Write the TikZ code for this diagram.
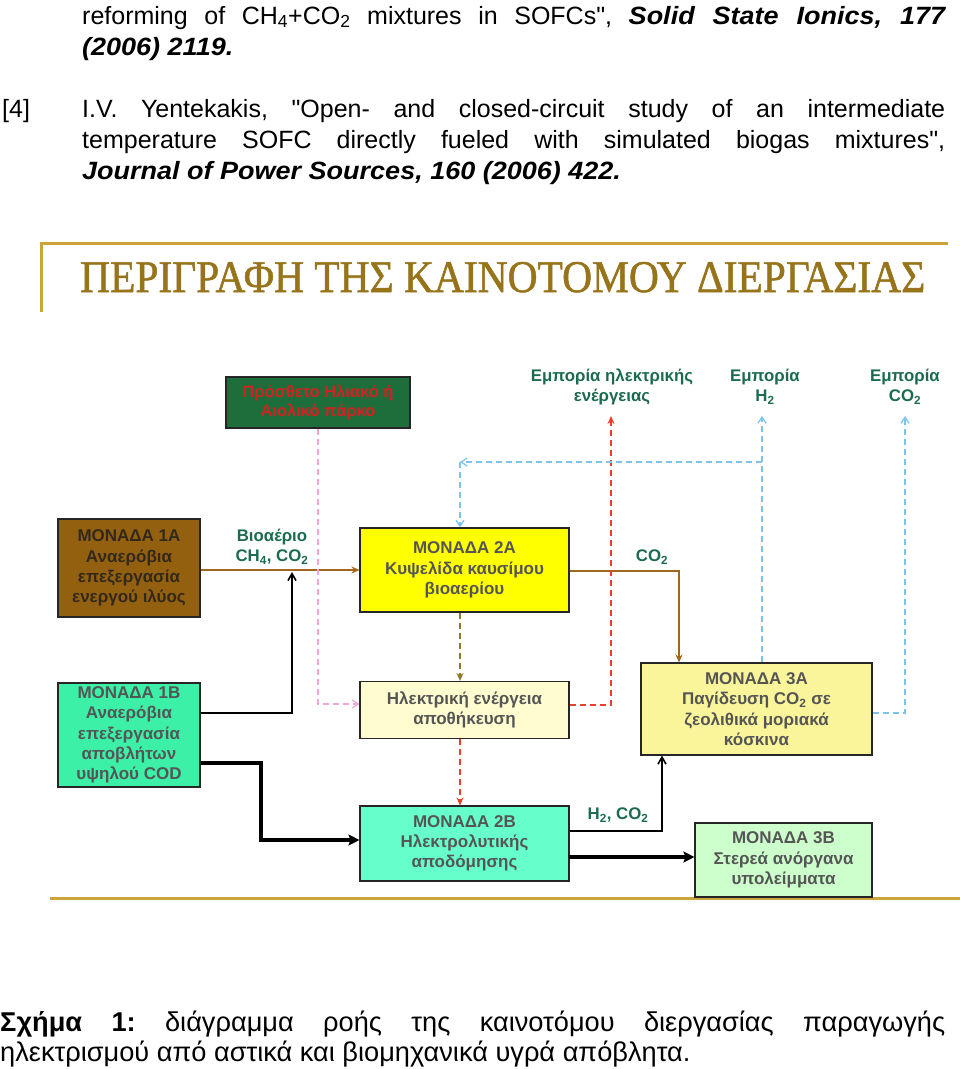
\documentclass[tikz,border=0pt]{standalone}
\usepackage{fontspec}
\setmainfont{Liberation Sans}[Ligatures=TeXOff]
\newfontfamily\bisans{Liberation Sans}[FakeStretch=1.08, Ligatures=TeXOff]
\newfontfamily\titlefont{Liberation Serif}[FakeBold=1.2]
\usetikzlibrary{arrows.meta}
\frenchspacing
\definecolor{gold}{HTML}{C9A53A}
\definecolor{titlecol}{HTML}{97731A}
\definecolor{parkfill}{HTML}{1E6E3C}
\definecolor{parktext}{HTML}{D42020}
\definecolor{lblcol}{HTML}{1B6B4F}
\definecolor{onefill}{HTML}{936010}
\definecolor{onetext}{HTML}{33291A}
\definecolor{browncol}{HTML}{A0681C}
\definecolor{twoafill}{HTML}{FFFF00}
\definecolor{onebfill}{HTML}{3CF0A8}
\definecolor{storefill}{HTML}{FFFDD0}
\definecolor{threeafill}{HTML}{FAF59A}
\definecolor{twobfill}{HTML}{66FFCC}
\definecolor{threebfill}{HTML}{CCFFCC}
\definecolor{boxtext}{HTML}{555555}
\definecolor{pinkcol}{HTML}{F2A6D6}
\definecolor{bluecol}{HTML}{7CC4EA}
\definecolor{redcol}{HTML}{E8402A}
\definecolor{olivecol}{HTML}{8C7A2A}
\newcommand\bitext[1]{{\bisans\bfseries\itshape #1}}
\tikzset{
  unitbox/.style={draw=black!85, line width=1.1pt, align=center, inner sep=0pt,
    text=boxtext, font=\fontsize{17}{20.3}\selectfont\bfseries},
  lbl/.style={align=center, inner sep=0pt, text=lblcol,
    font=\fontsize{16.8}{20}\selectfont\bfseries},
  reftext/.style={anchor=base west, inner sep=0pt, font=\fontsize{25}{31}\selectfont\frenchspacing},
  captext/.style={anchor=base west, inner sep=0pt, font=\fontsize{27.2}{31}\selectfont\frenchspacing},
  dashline/.style={line width=1.3pt, dash pattern=on 6pt off 4pt},
  brownarrow/.style={draw=browncol, line width=1.6pt, -{Stealth[length=8pt,width=7pt]}},
  openarrow/.style={-{Straight Barb[length=6pt,width=8pt]}},
  fillarrow/.style={-{Stealth[length=8pt,width=7pt]}},
  thinblack/.style={draw=black, line width=1.6pt, -{Straight Barb[length=7pt,width=8pt]}},
  thickblack/.style={draw=black, line width=4pt, -{Stealth[length=11pt,width=11pt,inset=2pt]}},
  goldline/.style={draw=gold, line width=3pt}
}
\begin{document}
\begin{tikzpicture}[x=1pt,y=-1pt]
\useasboundingbox (0,0) rectangle (960,1069);
% reference text
\node[reftext] (r1) at (82,24) {\makebox[863pt][s]{reforming of CH\textsubscript{4}+CO\textsubscript{2} mixtures in SOFCs", \bitext{Solid State Ionics, 177}}};
\node[reftext] (r2) at (82,55) {\bitext{(2006) 2119.}};
\node[reftext] (r3n) at (2,117) {[4]};
\node[reftext] (r3) at (82,117) {\makebox[863pt][s]{I.V. Yentekakis, "Open- and closed-circuit study of an intermediate}};
\node[reftext] (r4) at (82,148) {\makebox[863pt][s]{temperature SOFC directly fueled with simulated biogas mixtures",}};
\node[reftext] (r5) at (82,179) {\bitext{Journal of Power Sources, 160 (2006) 422.}};
% frame lines
\coordinate (gA) at (41,310);
\coordinate (gB) at (41,243);
\coordinate (gC) at (946,243);
\draw[goldline, line cap=rect] (gA) -- (gB) -- (gC);
\coordinate (gD) at (50,898);
\coordinate (gE) at (960,898);
\draw[goldline] (gD) -- (gE);
% title
\node[anchor=base west, inner sep=0pt, text=titlecol] (title) at (80,292)
  {\resizebox{845pt}{30pt}{\titlefont ΠΕΡΙΓΡΑΦΗ ΤΗΣ ΚΑΙΝΟΤΟΜΟΥ ΔΙΕΡΓΑΣΙΑΣ}};
% boxes
\node[unitbox, fill=parkfill, text=parktext, minimum width=184, minimum height=51,
  font=\fontsize{16.5}{18.5}\selectfont\bfseries] (park) at (318,402.5) {Πρόσθετο Ηλιακό ή\\Αιολικό πάρκο};
\node[unitbox, fill=onefill, text=onetext, minimum width=142, minimum height=98] (u1a) at (129,568)
  {ΜΟΝΑΔΑ 1Α\\Αναερόβια\\επεξεργασία\\ενεργού ιλύος};
\node[unitbox, fill=twoafill, minimum width=209, minimum height=84] (u2a) at (464.5,570)
  {ΜΟΝΑΔΑ 2Α\\Κυψελίδα καυσίμου\\βιοαερίου};
\node[unitbox, fill=onebfill, minimum width=142, minimum height=104] (u1b) at (129,735)
  {ΜΟΝΑΔΑ 1Β\\Αναερόβια\\επεξεργασία\\αποβλήτων\\υψηλού COD};
\node[unitbox, fill=storefill, minimum width=209, minimum height=57] (store) at (464.5,710)
  {Ηλεκτρική ενέργεια\\αποθήκευση};
\node[unitbox, fill=threeafill, minimum width=231, minimum height=92] (u3a) at (756.5,709)
  {ΜΟΝΑΔΑ 3Α\\Παγίδευση CO\textsubscript{2} σε\\ζεολιθικά μοριακά\\κόσκινα};
\node[unitbox, fill=twobfill, minimum width=209, minimum height=75] (u2b) at (464.5,843.5)
  {ΜΟΝΑΔΑ 2Β\\Ηλεκτρολυτικής\\αποδόμησης};
\node[unitbox, fill=threebfill, minimum width=177, minimum height=74] (u3b) at (783.5,860)
  {ΜΟΝΑΔΑ 3Β\\Στερεά ανόργανα\\υπολείμματα};
% labels
\node[lbl] (trade1) at (612,387) {Εμπορία ηλεκτρικής\\ενέργειας};
\node[lbl] (trade2) at (765,387) {Εμπορία\\H\textsubscript{2}};
\node[lbl] (trade3) at (905,387) {Εμπορία\\CO\textsubscript{2}};
\node[lbl] (biogas) at (272,547) {Βιοαέριο\\CH\textsubscript{4}, CO\textsubscript{2}};
\node[lbl] (co2lbl) at (652,557) {CO\textsubscript{2}};
\node[lbl] (h2lbl) at (618,815) {H\textsubscript{2}, CO\textsubscript{2}};
% connector points
\coordinate (tip1) at (611,416);
\coordinate (tip2) at (762,416);
\coordinate (tip3) at (905,416);
\coordinate (redc) at (611,705);
\coordinate (pinkc) at (318,704);
\coordinate (bluec) at (762,462);
\coordinate (bluel) at (460,462);
\coordinate (bluer) at (905,713);
\coordinate (join1) at (292,572);
\coordinate (blk1) at (292,713);
\coordinate (blk2) at (261,763);
\coordinate (blk3) at (261,840);
\coordinate (blk4) at (662,831);
\coordinate (blk5) at (569,857);
\coordinate (brc) at (679,571);
% connectors
\draw[brownarrow] (u1a.east |- u2a.west) -- (u2a.west);
\draw[brownarrow] (u2a.east |- brc) -- (brc) -- (u3a.north -| brc);
\draw[thinblack] (u1b.east |- blk1) -- (blk1) -- (join1);
\draw[thickblack] (u1b.east |- blk2) -- (blk2) -- (blk3) -- (u2b.west |- blk3);
\draw[thinblack] (u2b.east |- blk4) -- (blk4) -- (u3a.south -| blk4);
\draw[thickblack] (blk5) -- (u3b.west |- blk5);
\draw[dashline, draw=pinkcol, openarrow] (park.south -| pinkc) -- (pinkc) -- (store.west |- pinkc);
\draw[dashline, draw=olivecol, fillarrow] (u2a.south -| bluel) -- (store.north -| bluel);
\draw[dashline, draw=redcol, fillarrow] (store.east |- redc) -- (redc) -- (tip1);
\draw[dashline, draw=redcol, fillarrow] (store.south -| bluel) -- (u2b.north -| bluel);
\draw[dashline, draw=bluecol, openarrow] (u3a.north -| bluec) -- (tip2);
\draw[dashline, draw=bluecol, openarrow] (bluec) -- (bluel);
\draw[dashline, draw=bluecol, openarrow] (bluel) -- (u2a.north -| bluel);
\draw[dashline, draw=bluecol, openarrow] (u3a.east |- bluer) -- (bluer) -- (tip3);
% caption
\node[captext] (cap1) at (0,1031) {\makebox[945pt][s]{\textbf{Σχήμα 1:} διάγραμμα ροής της καινοτόμου διεργασίας παραγωγής}};
\node[captext] (cap2) at (0,1061) {ηλεκτρισμού από αστικά και βιομηχανικά υγρά απόβλητα.};
\end{tikzpicture}
\end{document}
